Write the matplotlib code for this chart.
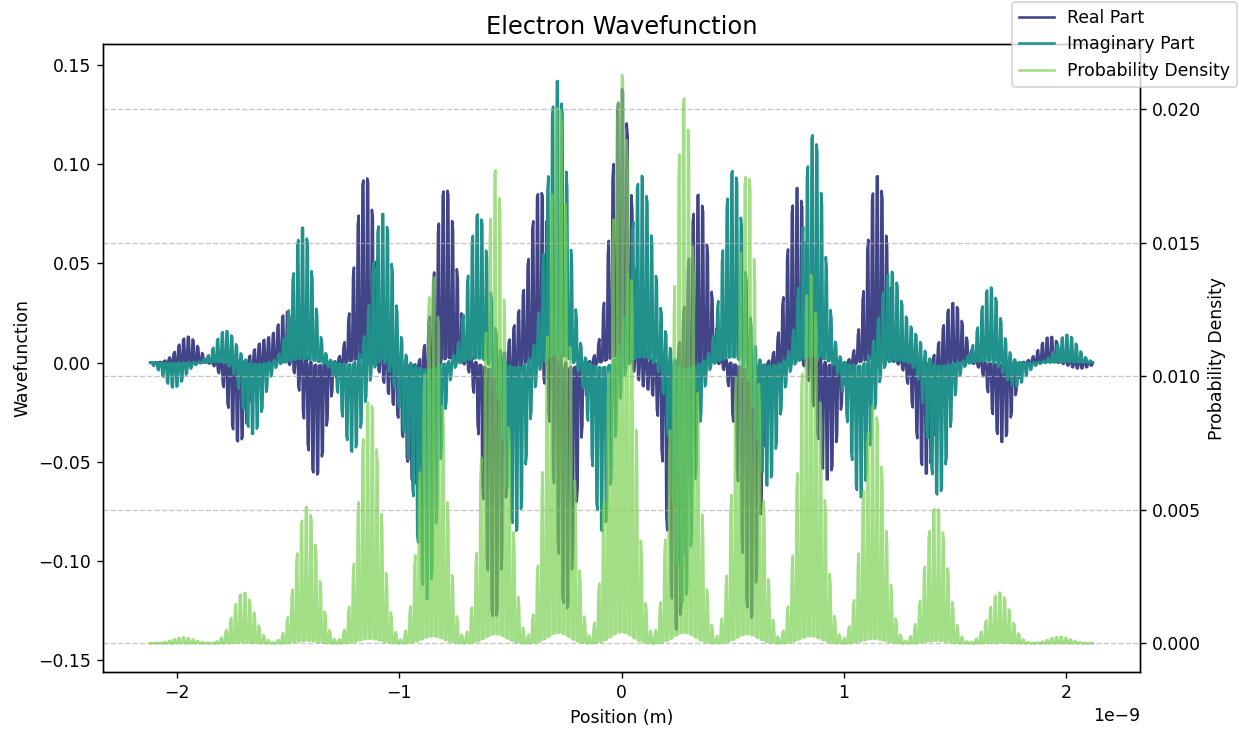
import numpy as np
import matplotlib.pyplot as plt

# position range of the curve (m)
x_start, x_stop, n_points = -2.12e-9, 2.12e-9, 1000

# probability density lobes: centre (nm) and peak height
lobe_pos = [-1.97, -1.70, -1.415, -1.133, -0.848, -0.566, -0.283, 0.0,
            0.283, 0.566, 0.85, 1.133, 1.415, 1.70, 1.97]
lobe_density = [0.00022, 0.0019, 0.0051, 0.0091, 0.0137, 0.0177, 0.0203, 0.0213,
                0.0204, 0.0177, 0.0138, 0.0089, 0.0051, 0.0019, 0.00025]

# real part sub-lobes: centre (nm) and signed peak
real_pos = [-1.95, -1.72, -1.61, -1.50, -1.375, -1.151, -1.025, -0.926, -0.791,
            -0.571, -0.463, -0.364, -0.25, 0.0, 0.108, 0.25, 0.346, 0.58,
            0.791, 0.926, 1.151, 1.37, 1.492, 1.712, 1.928, 2.06]
real_peak = [0.013, -0.040, 0.010, 0.025, -0.057, 0.094, -0.016, -0.060, 0.088,
             -0.130, 0.018, 0.085, -0.125, 0.138, -0.012, -0.135, 0.085, -0.129,
             0.088, -0.059, 0.094, -0.056, 0.030, -0.040, 0.013, -0.003]

# imaginary part sub-lobes
imag_pos = [-2.013, -1.78, -1.658, -1.434, -1.209, -1.074, -0.962, -0.872, -0.643,
            -0.476, -0.288, -0.085, 0.085, 0.162, 0.279, 0.503, 0.656, 0.863,
            1.074, 1.209, 1.312, 1.425, 1.658, 1.771, 2.004]
imag_peak = [-0.0126, 0.016, -0.036, 0.068, -0.045, 0.075, -0.030, -0.115, 0.075,
             -0.085, 0.142, -0.085, 0.090, 0.017, -0.121, 0.097, -0.062, 0.115,
             -0.068, 0.045, 0.013, -0.067, 0.038, -0.012, 0.014]

# fast stair-step pattern seen inside every lobe (fraction of lobe height per sample)
spike_up = [1.0, 1.0, 0.03, 0.03, 0.03]
spike_down = [0.03, 0.03, 1.0, 1.0, 0.03]
density_spikes = [1.0, 1.0, 0.02, 0.02, 0.02]

x = np.linspace(x_start, x_stop, n_points)
x_nm = x * 1e9


def lobes(pos, peak, width):
    up = np.zeros_like(x_nm)
    down = np.zeros_like(x_nm)
    for c, p in zip(pos, peak):
        bump = p * np.exp(-0.5 * ((x_nm - c) / width) ** 2)
        if p > 0:
            up += bump
        else:
            down += bump
    return up, down


def textured(pos, peak, width, shift):
    up, down = lobes(pos, peak, width)
    t_up = np.roll(np.resize(spike_up, n_points), shift)
    t_down = np.roll(np.resize(spike_down, n_points), shift)
    return up * t_up + down * t_down


real = textured(real_pos, real_peak, 0.045, 0)
imag = textured(imag_pos, imag_peak, 0.045, 1)

# density lobes touch the baseline between each other, so take the tallest lobe
dens = np.zeros_like(x_nm)
for c, p in zip(lobe_pos, lobe_density):
    dens = np.maximum(dens, p * np.exp(-0.5 * ((x_nm - c) / 0.047) ** 2))
dens = dens * np.resize(density_spikes, n_points)

fig = plt.figure(figsize=(1239 / 124, 730 / 124), dpi=124)
ax1 = fig.add_axes([103 / 1239, 1 - 672 / 730, (1140 - 103) / 1239, (672 - 44) / 730])

ax1.plot(x, real, color="#414487", label="Real Part")
ax1.plot(x, imag, color="#21918c", label="Imaginary Part")
ax1.set_xlim(-2.332e-9, 2.332e-9)
ax1.set_ylim(-0.156, 0.1606)
ax1.set_xlabel("Position (m)")
ax1.set_ylabel("Wavefunction")
ax1.set_title("Electron Wavefunction", fontsize=14)

ax2 = ax1.twinx()
ax2.plot(x, dens, color="#7ad151", alpha=0.7, label="Probability Density")
ax2.set_ylim(-0.00107, 0.02243)
ax2.set_ylabel("Probability Density")
ax2.grid(True, linestyle="--", alpha=0.7)

fig.legend(loc="upper right", bbox_to_anchor=(1.0, 1.0), borderaxespad=0.1)

fig.savefig("out.png", dpi=124)
